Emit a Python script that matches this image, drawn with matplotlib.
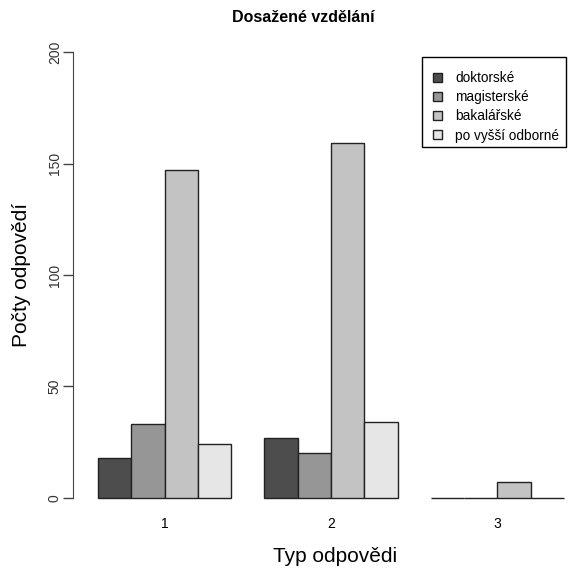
import numpy as np
import matplotlib.pyplot as plt
from matplotlib.patches import Patch, Rectangle

plt.rcParams['font.family'] = ['Liberation Sans', 'DejaVu Sans']

# --- data ---
groups = ["1", "2", "3"]
series = ["doktorské", "magisterské", "bakalářské", "po vyšší odborné"]
doktorske = [18, 27, 0]
magisterske = [33, 20, 0]
bakalarske = [147, 159, 7]
vyssi = [24, 34, 0]
values = [doktorske, magisterske, bakalarske, vyssi]
colors = ["#4D4D4D", "#969696", "#C3C3C3", "#E6E6E6"]

W, H = 568, 576
fig = plt.figure(figsize=(W / 100, H / 100), dpi=100)
ax = fig.add_axes([73 / W, 1 - 515.8 / H, 1 - 73 / W, (515.8 - 34.2) / H])

# R style beside barplot: width 1, space 1 between groups
nser = len(series)
for i, vals in enumerate(values):
    xs = [1 + g * (nser + 1) + i for g in range(len(groups))]
    ax.bar(xs, vals, width=1, align='edge', color=colors[i],
           edgecolor='#222222', linewidth=1.0)

centers = [1 + g * (nser + 1) + nser / 2 for g in range(len(groups))]
ax.set_xticks(centers)
ax.set_xticklabels(groups, fontsize=10)
ax.tick_params(axis='x', length=0, pad=1)

ax.set_xlim(0.249, 15.12)
ax.set_ylim(-8, 208)
ax.set_yticks([0, 50, 100, 150, 200])
ax.set_yticklabels(["0", "50", "100", "150", "200"], rotation=90, va='center',
                   fontsize=10, color='#333333')
ax.tick_params(axis='y', length=7, width=1, color='#444444', pad=1)

for s in ['top', 'right', 'bottom']:
    ax.spines[s].set_visible(False)
ax.spines['left'].set_bounds(0, 200)
ax.spines['left'].set_color('#444444')

# title and axis labels placed like the R device
fig.text(303 / W, 1 - 18 / H, "Dosažené vzdělání", fontsize=11.5,
         fontweight='bold', ha='center', va='center')
fig.text(335 / W, 1 - 557 / H, "Typ odpovědi", fontsize=15,
         ha='center', va='center')
fig.text(22 / W, 1 - 275 / H, "Počty odpovědí", fontsize=15,
         rotation=90, ha='center', va='center')

# legend box like R's legend()
fig.patches.append(Rectangle((422 / W, 1 - 147 / H), 144 / W, 90 / H,
                             transform=fig.transFigure, facecolor='white',
                             edgecolor='black', linewidth=1.0, zorder=2))
handles = [Patch(facecolor=c, edgecolor='#222222', linewidth=1.0) for c in colors]
leg = fig.legend(handles, series, loc='upper left',
                 bbox_to_anchor=(433 / W, 1 - 71 / H), fontsize=9.8,
                 frameon=False, handlelength=0.65, handleheight=0.65,
                 handletextpad=1.0, labelspacing=0.38, borderpad=0,
                 borderaxespad=0)
leg.set_zorder(3)

fig.savefig("out.png", dpi=100)
